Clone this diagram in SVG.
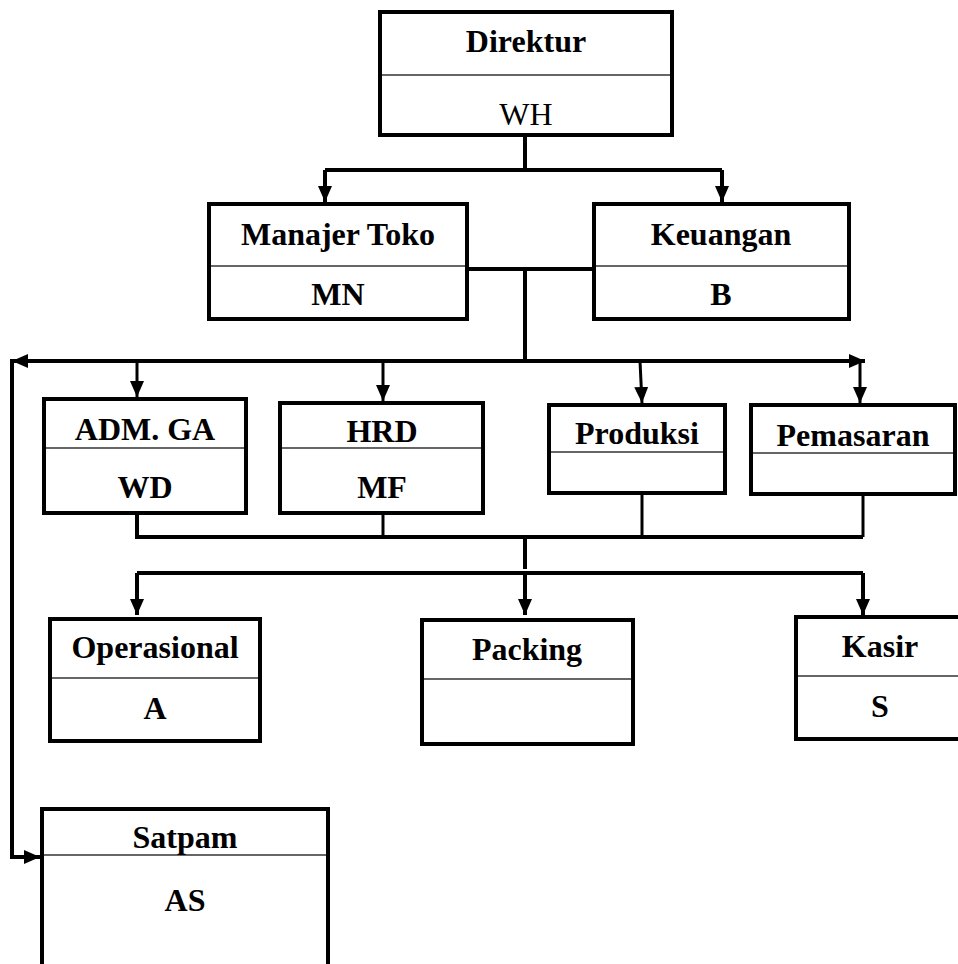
<svg xmlns="http://www.w3.org/2000/svg" width="958" height="964" viewBox="0 0 958 964">
<style>
.box{fill:#fff;stroke:#000;stroke-width:4}
.div{stroke:#333;stroke-width:1.5}
.t{font-family:"Liberation Serif","Times New Roman",serif;font-weight:bold;font-size:32px;text-anchor:middle;fill:#000}
.r{font-weight:normal}
.c{fill:none;stroke:#000;stroke-width:4}
.c3{fill:none;stroke:#000;stroke-width:3}
</style>
<defs>
<marker id="ah" markerWidth="16" markerHeight="14" refX="16" refY="7" orient="auto" markerUnits="userSpaceOnUse">
<path d="M0,0 L16,7 L0,14 z" fill="#000"/>
</marker>
</defs>
<rect width="958" height="964" fill="#fff"/>
<g id="connectors">
<path class="c" d="M525,137 V170"/>
<path class="c" d="M325,170 H722"/>
<path class="c" d="M325,170 V202" marker-end="url(#ah)"/>
<path class="c" d="M722,170 V202" marker-end="url(#ah)"/>
<path class="c" d="M469,269 H592"/>
<path class="c" d="M525,269 V361"/>
<path class="c" d="M525,361 H12" marker-end="url(#ah)"/>
<path class="c" d="M525,361 H865" marker-end="url(#ah)"/>
<path class="c3" d="M137,361 V397" marker-end="url(#ah)"/>
<path class="c3" d="M383,361 V401" marker-end="url(#ah)"/>
<path class="c3" d="M640,361 L642,403" marker-end="url(#ah)"/>
<path class="c3" d="M860,361 V403" marker-end="url(#ah)"/>
<path class="c" d="M12,359 V857 H40" marker-end="url(#ah)"/>
<path class="c" d="M137,515 V537 H863"/>
<path class="c3" d="M383,515 V537"/>
<path class="c3" d="M642,495 V537"/>
<path class="c3" d="M863,496 V537"/>
<path class="c" d="M525,537 V569"/>
<path class="c" d="M137,573 H863"/>
<path class="c" d="M525,573 V615" marker-end="url(#ah)"/>
<path class="c" d="M137,573 V615" marker-end="url(#ah)"/>
<path class="c" d="M863,573 V615" marker-end="url(#ah)"/>
</g>
<g id="direktur">
<rect class="box" x="380" y="12" width="292" height="123"/>
<line class="div" x1="382" y1="75" x2="670" y2="75"/>
<text class="t" x="526" y="52">Direktur</text>
<text class="t r" x="526" y="125">WH</text>
</g>
<g id="manajer-toko">
<rect class="box" x="209" y="204" width="258" height="115"/>
<line class="div" x1="211" y1="266" x2="465" y2="266"/>
<text class="t" x="338" y="245">Manajer Toko</text>
<text class="t" x="338" y="305">MN</text>
</g>
<g id="keuangan">
<rect class="box" x="594" y="204" width="255" height="115"/>
<line class="div" x1="596" y1="266" x2="847" y2="266"/>
<text class="t" x="721" y="245">Keuangan</text>
<text class="t" x="721" y="305">B</text>
</g>
<g id="adm-ga">
<rect class="box" x="44" y="399" width="202" height="114"/>
<line class="div" x1="46" y1="448" x2="244" y2="448"/>
<text class="t" x="145" y="440">ADM. GA</text>
<text class="t" x="145" y="498">WD</text>
</g>
<g id="hrd">
<rect class="box" x="280" y="403" width="203" height="110"/>
<line class="div" x1="282" y1="448" x2="481" y2="448"/>
<text class="t" x="382" y="442">HRD</text>
<text class="t" x="382" y="498">MF</text>
</g>
<g id="produksi">
<rect class="box" x="549" y="405" width="176" height="88"/>
<line class="div" x1="551" y1="452" x2="723" y2="452"/>
<text class="t" x="637" y="444">Produksi</text>
</g>
<g id="pemasaran">
<rect class="box" x="751" y="405" width="204" height="89"/>
<line class="div" x1="753" y1="453" x2="953" y2="453"/>
<text class="t" x="853" y="446">Pemasaran</text>
</g>
<g id="operasional">
<rect class="box" x="50" y="619" width="210" height="122"/>
<line class="div" x1="52" y1="678" x2="258" y2="678"/>
<text class="t" x="155" y="658">Operasional</text>
<text class="t" x="155" y="719">A</text>
</g>
<g id="packing">
<rect class="box" x="422" y="620" width="211" height="124"/>
<line class="div" x1="424" y1="679" x2="631" y2="679"/>
<text class="t" x="527" y="660">Packing</text>
</g>
<g id="kasir">
<rect class="box" x="796" y="617" width="170" height="122"/>
<line class="div" x1="798" y1="676" x2="964" y2="676"/>
<text class="t" x="880" y="657">Kasir</text>
<text class="t" x="880" y="717">S</text>
</g>
<g id="satpam">
<rect class="box" x="42" y="809" width="286" height="200"/>
<line class="div" x1="44" y1="855" x2="326" y2="855"/>
<text class="t" x="185" y="848">Satpam</text>
<text class="t" x="185" y="911">AS</text>
</g>
</svg>
